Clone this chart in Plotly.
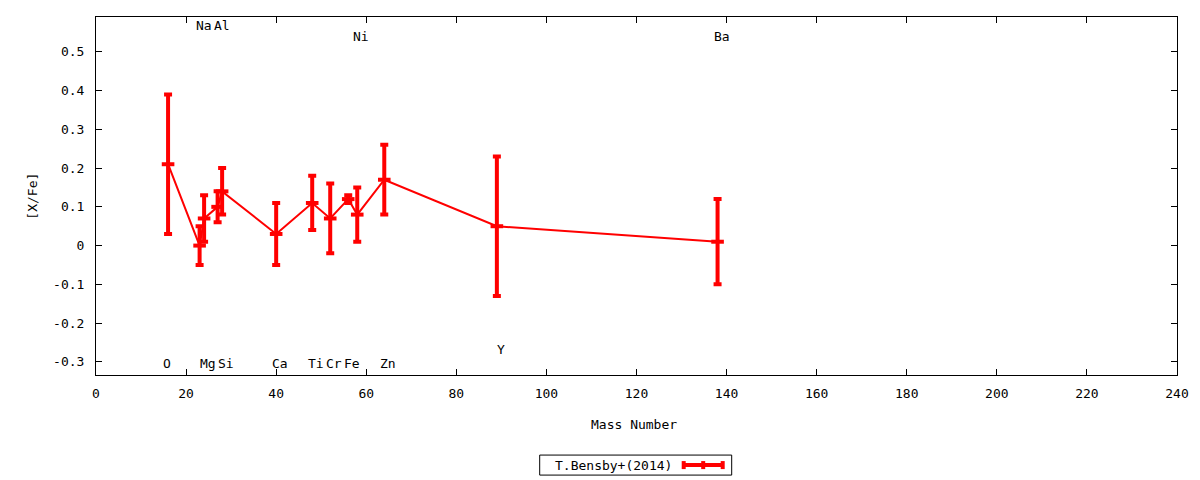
import plotly.graph_objects as go

# ---- data ----
elements = ["O", "Na", "Mg", "Al", "Si", "Ca", "Ti", "Cr", "Fe", "Ni", "Zn", "Y", "Ba"]
mass_numbers = [16, 23, 24, 27, 28, 40, 48, 52, 56, 58, 64, 89, 138]
x_fe = [0.21, 0.00, 0.07, 0.10, 0.14, 0.03, 0.11, 0.07, 0.12, 0.08, 0.17, 0.05, 0.01]
x_fe_err = [0.18, 0.05, 0.06, 0.04, 0.06, 0.08, 0.07, 0.09, 0.01, 0.07, 0.09, 0.18, 0.11]
series_name = "T.Bensby+(2014)"
x_tick_vals = [0, 20, 40, 60, 80, 100, 120, 140, 160, 180, 200, 220, 240]
y_tick_vals = [-0.3, -0.2, -0.1, 0, 0.1, 0.2, 0.3, 0.4, 0.5]
y_tick_labels = ["-0.3", "-0.2", "-0.1", "0", "0.1", "0.2", "0.3", "0.4", "0.5"]

FONT = "DejaVu Sans Mono"
RED = "#ff0000"

fig = go.Figure()
fig.add_trace(go.Scatter(
    x=mass_numbers, y=x_fe, mode="lines+markers", name=series_name,
    line=dict(color=RED, width=2),
    marker=dict(symbol="line-ew", size=9, color=RED, line=dict(color=RED, width=4)),
    error_y=dict(type="data", array=x_fe_err, symmetric=True, color=RED,
                 thickness=4, width=4),
    showlegend=False,
))

# element labels: alternate rows above / below
label_rows = {"O": -0.305, "Na": 0.567, "Mg": -0.305, "Al": 0.567, "Si": -0.305,
              "Ca": -0.305, "Ti": -0.305, "Cr": -0.305, "Fe": -0.305, "Ni": 0.54,
              "Zn": -0.305, "Y": -0.267, "Ba": 0.54}
annotations = []
for el, m in zip(elements, mass_numbers):
    annotations.append(dict(x=m, y=label_rows[el], xref="x", yref="y", text=el,
                            showarrow=False, xanchor="center", yanchor="middle",
                            xshift=4 if el != "O" else -1,
                            font=dict(family=FONT, size=13, color="black")))

# axis titles
annotations.append(dict(x=0.498, y=-0.137, xref="paper", yref="paper", text="Mass Number",
                        showarrow=False, xanchor="center", yanchor="middle",
                        font=dict(family=FONT, size=13, color="black")))
annotations.append(dict(x=-0.0595, y=0.5, xref="paper", yref="paper", text="[X/Fe]",
                        showarrow=False, xanchor="center", yanchor="middle", textangle=-90,
                        font=dict(family=FONT, size=13, color="black")))

# manual legend (text left of the sample, gnuplot style)
L, R = 96.3, 1177.3
T, B = 17.3, 375.0
px = lambda v: (v - L) / (R - L)
py = lambda v: (B - v) / (B - T)
annotations.append(dict(x=px(674), y=py(465), xref="paper", yref="paper", text=series_name,
                        showarrow=False, xanchor="right", yanchor="middle",
                        font=dict(family=FONT, size=13, color="black")))
shapes = [
    dict(type="rect", xref="paper", yref="paper", x0=px(540), x1=px(732), y0=py(475), y1=py(455),
         line=dict(color="black", width=1), fillcolor="white"),
    dict(type="line", xref="paper", yref="paper", x0=px(683), x1=px(724), y0=py(465), y1=py(465),
         line=dict(color=RED, width=4)),
    dict(type="line", xref="paper", yref="paper", x0=px(684), x1=px(684), y0=py(461), y1=py(469),
         line=dict(color=RED, width=4)),
    dict(type="line", xref="paper", yref="paper", x0=px(723), x1=px(723), y0=py(461), y1=py(469),
         line=dict(color=RED, width=4)),
    dict(type="line", xref="paper", yref="paper", x0=px(703.5), x1=px(703.5), y0=py(461), y1=py(469),
         line=dict(color=RED, width=4)),
]

fig.update_layout(
    width=1200, height=480,
    margin=dict(l=96, r=23, t=17, b=105, pad=0),
    paper_bgcolor="white", plot_bgcolor="white",
    font=dict(family=FONT, size=13, color="black"),
    annotations=annotations, shapes=shapes,
    xaxis=dict(range=[0, 240], tickvals=x_tick_vals, ticks="inside", ticklen=6,
               showline=True, linecolor="black", linewidth=1, mirror="ticks",
               showgrid=False, zeroline=False, tickcolor="black",
               ticklabelstandoff=6, tickfont=dict(family=FONT, size=13)),
    yaxis=dict(range=[-0.334, 0.59], tickvals=y_tick_vals, ticktext=y_tick_labels,
               ticks="inside", ticklen=6, showline=True, linecolor="black", linewidth=1,
               mirror="ticks", showgrid=False, zeroline=False, tickcolor="black",
               ticklabelstandoff=8, tickfont=dict(family=FONT, size=13)),
)

fig.write_html("out.html", config={"displayModeBar": False},
               post_script="document.body.style.margin='0';document.body.style.overflow='hidden';")
